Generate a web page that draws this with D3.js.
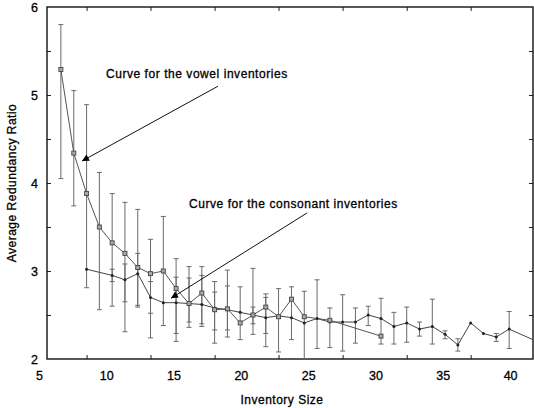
<!DOCTYPE html>
<html>
<head>
<meta charset="utf-8">
<script src="https://cdn.jsdelivr.net/npm/d3@7"></script>
<style>
  body { margin: 0; background: #fff; }
  svg text { font-family: "Liberation Sans", Arial, sans-serif; fill: #000; stroke: #000; stroke-width: 0.3px; }
</style>
</head>
<body>
<svg id="chart" width="534" height="408"></svg>
<script>
// Vowel inventories (squares)
const vowelSize  = [6.63, 7.59, 8.54, 9.49, 10.44, 11.39, 12.34, 13.29, 14.24, 15.19, 16.15, 17.10, 18.05, 19.00, 19.95, 20.90, 21.85, 22.80, 23.76, 24.71, 26.61, 30.41];
const vowelRatio = [5.29, 4.34, 3.88, 3.50, 3.32, 3.20, 3.04, 2.97, 3.00, 2.80, 2.63, 2.75, 2.56, 2.57, 2.41, 2.50, 2.59, 2.48, 2.68, 2.48, 2.44, 2.26];
const vowelLow   = [4.05, 3.74, 2.81, 2.56, 2.60, 2.31, 2.59, 2.24, 2.38, 2.20, 2.36, 2.37, 2.18, 2.25, 2.22, 2.28, 2.14, 2.08, 2.22, 2.00, 2.13, 2.17];
const vowelHigh  = [5.80, 5.05, 4.89, 4.12, 3.88, 3.78, 3.70, 3.36, 3.62, 3.14, 3.05, 3.05, 2.88, 3.01, 2.82, 3.03, 2.74, 2.80, 2.82, 2.77, 2.58, 2.69];

// Consonant inventories (dots)
const consSize  = [8.54, 10.44, 11.39, 12.34, 13.29, 14.24, 15.19, 16.15, 17.10, 18.05, 19.00, 19.95, 20.90, 21.85, 22.80, 23.76, 24.71, 25.66, 26.61, 27.56, 28.51, 29.46, 30.41, 31.37, 32.32, 33.27, 34.22, 35.17, 36.12, 37.07, 38.02, 38.97, 39.93, 41.83];
const consRatio = [3.02, 2.95, 2.90, 2.97, 2.70, 2.64, 2.64, 2.63, 2.62, 2.58, 2.56, 2.53, 2.50, 2.47, 2.49, 2.47, 2.41, 2.46, 2.42, 2.42, 2.42, 2.50, 2.46, 2.37, 2.41, 2.34, 2.37, 2.28, 2.16, 2.41, 2.29, 2.25, 2.34, 2.21];
const consLow   = [null, 2.88, 2.65, 2.61, 2.52, null, 2.29, 2.42, 2.40, 2.33, 2.33, null, 2.40, 2.29, null, null, null, 2.12, null, 2.09, 2.18, 2.38, null, 2.17, 2.19, 2.26, 2.17, 2.23, 2.09, null, null, 2.20, 2.12, null];
const consHigh  = [null, 3.02, 3.08, 3.20, 2.88, null, 2.93, 2.92, 2.95, 2.76, 2.83, null, 2.59, 2.70, null, null, null, 2.90, null, 2.73, 2.58, 2.60, null, 2.53, 2.59, 2.42, 2.68, 2.32, 2.23, null, null, 2.29, 2.54, null];

// axes
const xLabels = [5, 10, 15, 20, 25, 30, 35, 40];
const xFrameTicks = [8.54, 13.29, 18.05, 22.80, 27.56, 32.32, 37.07];
const yLabels = [2, 3, 4, 5, 6];
const yFrameTicks = [2.5, 3, 3.5, 4, 4.5, 5, 5.5];

// annotations (data coordinates)
const notes = [
  { text: "Curve for the vowel inventories", tx: 9.98, ty: 5.23, x1: 18.30, y1: 5.10, x2: 8.20, y2: 4.25 },
  { text: "Curve for the consonant inventories", tx: 16.15, ty: 3.75, x1: 24.92, y1: 3.66, x2: 14.81, y2: 2.69 }
];

const margin = { top: 7, right: 1, bottom: 49, left: 47 };
const width = 534 - margin.left - margin.right;
const height = 408 - margin.top - margin.bottom;

const svg = d3.select("#chart");
const g = svg.append("g").attr("transform", `translate(${margin.left},${margin.top})`);

const x = d3.scaleLinear().domain([5.6, 41.7]).range([0, width]);
const y = d3.scaleLinear().domain([2, 6]).range([height, 0]);

svg.append("defs").append("clipPath").attr("id", "plot")
  .append("rect").attr("width", width).attr("height", height);

svg.select("defs").append("marker")
  .attr("id", "arrow")
  .attr("viewBox", "0 0 10 10")
  .attr("refX", 10).attr("refY", 5)
  .attr("markerWidth", 8).attr("markerHeight", 7)
  .attr("markerUnits", "userSpaceOnUse")
  .attr("orient", "auto")
  .append("path").attr("d", "M0,0L10,5L0,10z").attr("fill", "#000");

// frame tick marks (inward)
g.append("g").attr("transform", `translate(0,${height})`)
  .call(d3.axisBottom(x).tickValues(xFrameTicks).tickSize(-4).tickFormat(""));
g.append("g")
  .call(d3.axisTop(x).tickValues(xFrameTicks).tickSize(-4).tickFormat(""));
g.append("g")
  .call(d3.axisLeft(y).tickValues(yFrameTicks).tickSize(-4).tickFormat(""));
g.append("g").attr("transform", `translate(${width},0)`)
  .call(d3.axisRight(y).tickValues(yFrameTicks).tickSize(-4).tickFormat(""));

// tick labels
g.append("g").attr("class", "xlab").attr("transform", `translate(0,${height})`)
  .call(d3.axisBottom(x).tickValues(xLabels).tickSize(0).tickPadding(12).tickFormat(d3.format("d")));
g.append("g").attr("class", "ylab")
  .call(d3.axisLeft(y).tickValues(yLabels).tickSize(0).tickPadding(9).tickFormat(d3.format("d")));

g.selectAll(".xlab .domain, .ylab .domain").remove();
g.selectAll(".tick line").attr("stroke", "#222");
g.selectAll(".domain").attr("stroke", "none");
g.selectAll(".xlab text, .ylab text").attr("font-size", 12.5).attr("fill", "#000");

// frame
g.append("rect")
  .attr("width", width).attr("height", height)
  .attr("fill", "none").attr("stroke", "#111").attr("stroke-width", 1.4);

// axis titles
svg.append("text")
  .attr("x", margin.left + width / 2 - 8).attr("y", 404)
  .attr("text-anchor", "middle").attr("font-size", 12)
  .attr("letter-spacing", 0.5)
  .text("Inventory Size");

svg.append("text")
  .attr("transform", `translate(16,${margin.top + y(4)}) rotate(-90)`)
  .attr("text-anchor", "middle").attr("font-size", 12)
  .attr("letter-spacing", 0.5)
  .text("Average Redundancy Ratio");

const plot = g.append("g").attr("clip-path", "url(#plot)");

function errorBars(sizes, low, high) {
  const rows = sizes.map((s, i) => ({ s, lo: low[i], hi: high[i] })).filter(d => d.lo != null);
  const bars = plot.append("g").attr("stroke", "#6a6a6a").attr("stroke-width", 1);
  bars.selectAll("line.v").data(rows).enter().append("line")
    .attr("x1", d => x(d.s)).attr("x2", d => x(d.s))
    .attr("y1", d => y(d.lo)).attr("y2", d => y(d.hi));
  bars.selectAll("line.lo").data(rows).enter().append("line")
    .attr("x1", d => x(d.s) - 2.5).attr("x2", d => x(d.s) + 2.5)
    .attr("y1", d => y(d.lo)).attr("y2", d => y(d.lo));
  bars.selectAll("line.hi").data(rows).enter().append("line")
    .attr("x1", d => x(d.s) - 2.5).attr("x2", d => x(d.s) + 2.5)
    .attr("y1", d => y(d.hi)).attr("y2", d => y(d.hi));
}

errorBars(vowelSize, vowelLow, vowelHigh);
errorBars(consSize, consLow, consHigh);

const line = d3.line().x(d => x(d[0])).y(d => y(d[1]));
const vowelPts = vowelSize.map((s, i) => [s, vowelRatio[i]]);
const consPts = consSize.map((s, i) => [s, consRatio[i]]);

plot.append("path").datum(consPts)
  .attr("d", line).attr("fill", "none").attr("stroke", "#444").attr("stroke-width", 1);
plot.append("path").datum(vowelPts)
  .attr("d", line).attr("fill", "none").attr("stroke", "#555").attr("stroke-width", 1);

plot.selectAll("circle.cons").data(consPts).enter().append("circle")
  .attr("cx", d => x(d[0])).attr("cy", d => y(d[1]))
  .attr("r", 1.5).attr("fill", "#222");

plot.selectAll("rect.vowel").data(vowelPts).enter().append("rect")
  .attr("x", d => x(d[0]) - 2).attr("y", d => y(d[1]) - 2)
  .attr("width", 4).attr("height", 4)
  .attr("fill", "#aaa").attr("stroke", "#444").attr("stroke-width", 0.9);

// annotations
const ann = g.append("g");
ann.selectAll("line").data(notes).enter().append("line")
  .attr("x1", d => x(d.x1)).attr("y1", d => y(d.y1))
  .attr("x2", d => x(d.x2)).attr("y2", d => y(d.y2))
  .attr("stroke", "#111").attr("stroke-width", 1)
  .attr("marker-end", "url(#arrow)");
ann.selectAll("text").data(notes).enter().append("text")
  .attr("x", d => x(d.tx)).attr("y", d => y(d.ty))
  .attr("dominant-baseline", "middle")
  .attr("font-size", 12).attr("letter-spacing", 0.55)
  .text(d => d.text);
</script>
</body>
</html>
